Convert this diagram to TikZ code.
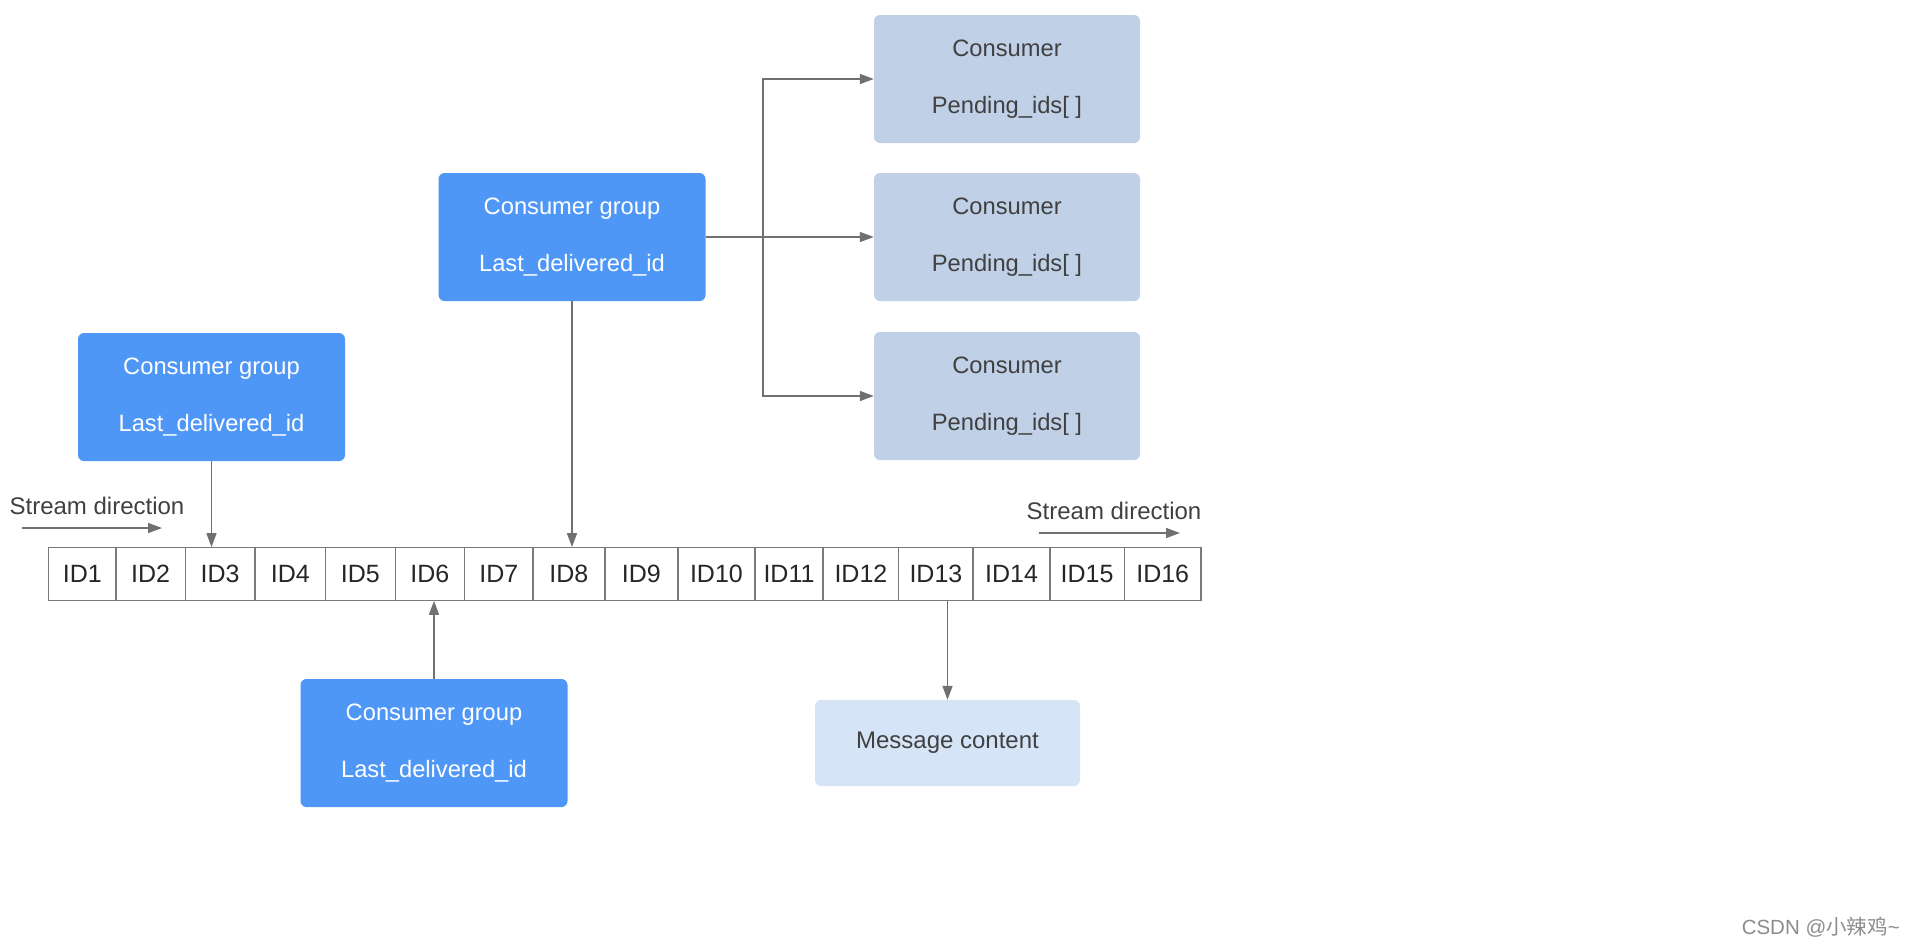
\documentclass[tikz,border=0pt]{standalone}
\usepackage{fontspec}
\setmainfont{Liberation Sans}
\newfontfamily\cjk{Noto Sans CJK SC}
\usetikzlibrary{arrows.meta}
\definecolor{grpblue}{HTML}{4F97F7}
\definecolor{consblue}{HTML}{C0D0E7}
\definecolor{msgblue}{HTML}{D5E5F7}
\definecolor{darktxt}{HTML}{404040}
\definecolor{linegray}{HTML}{707070}
\definecolor{bargray}{HTML}{7A7A7A}
\tikzset{
  grp/.style={fill=grpblue, draw=none, rounded corners=6pt, minimum width=267pt, minimum height=128pt,
    text=white, align=center, font=\fontsize{23.7}{57}\selectfont, inner sep=0pt},
  cons/.style={fill=consblue, draw=none, rounded corners=6pt, minimum width=266pt, minimum height=128pt,
    text=darktxt, align=center, font=\fontsize{23.7}{57}\selectfont, inner sep=0pt},
  msg/.style={fill=msgblue, draw=none, rounded corners=6pt, minimum width=265pt, minimum height=86pt,
    text=darktxt, font=\fontsize{24}{28}\selectfont, inner sep=0pt},
  cell/.style={draw=bargray, line width=1.3pt, minimum height=52.5pt, inner sep=0pt,
    text=black!85, font=\fontsize{25}{28}\selectfont},
  arr/.style={draw=linegray, line width=1.6pt, -{Triangle[length=14pt,width=10pt]}},
  lbl/.style={text=darktxt, font=\fontsize{24}{28}\selectfont, inner sep=0pt}
}
\begin{document}
\begin{tikzpicture}[x=1pt,y=-1pt]
\useasboundingbox (0,0) rectangle (1912,946);
% ID bar
\node[cell, minimum width=67pt]   (id1)  at (82.3,574)  {ID1};
\node[cell, minimum width=69.5pt] (id2)  at (150.6,574) {ID2};
\node[cell, minimum width=69.6pt] (id3)  at (220.1,574) {ID3};
\node[cell, minimum width=70.7pt] (id4)  at (290.3,574) {ID4};
\node[cell, minimum width=69.5pt] (id5)  at (360.4,574) {ID5};
\node[cell, minimum width=69.5pt] (id6)  at (429.9,574) {ID6};
\node[cell, minimum width=68.3pt] (id7)  at (498.8,574) {ID7};
\node[cell, minimum width=71.9pt] (id8)  at (568.9,574) {ID8};
\node[cell, minimum width=73.2pt] (id9)  at (641.4,574) {ID9};
\node[cell, minimum width=76.8pt] (id10) at (716.4,574) {ID10};
\node[cell, minimum width=68.3pt] (id11) at (789,574)   {ID11};
\node[cell, minimum width=75.6pt] (id12) at (860.9,574) {ID12};
\node[cell, minimum width=74.4pt] (id13) at (935.9,574) {ID13};
\node[cell, minimum width=76.8pt] (id14) at (1011.5,574) {ID14};
\node[cell, minimum width=74.4pt] (id15) at (1087.1,574) {ID15};
\node[cell, minimum width=76.8pt] (id16) at (1162.7,574) {ID16};
% groups
\node[grp] (g1) at (211.5,397) {Consumer group\\Last\_delivered\_id};
\node[grp] (g2) at (572,237)   {Consumer group\\Last\_delivered\_id};
\node[grp] (g3) at (434,743)   {Consumer group\\Last\_delivered\_id};
% consumers
\node[cons] (c1) at (1007,79)  {Consumer\\Pending\_ids[ ]};
\node[cons] (c2) at (1007,237) {Consumer\\Pending\_ids[ ]};
\node[cons] (c3) at (1007,396) {Consumer\\Pending\_ids[ ]};
% message
\node[msg] (m) at (947.5,743) {Message content};
% arrows to bar
\draw[arr] (g1.south) -- (g1.south |- id3.north);
\draw[arr] (g2.south) -- (g2.south |- id8.north);
\draw[arr] (g3.north) -- (g3.north |- id6.south);
\draw[arr] (m.north |- id13.south) -- (m.north);
% fan-out
\coordinate (j) at (763,237);
\draw[arr] (g2.east) -- (c2.west);
\draw[arr] (g2.east) -- (j) |- (c1.west);
\draw[arr] (g2.east) -- (j) |- (c3.west);
% stream direction
\node[lbl] (s1) at (97,506) {Stream direction};
\coordinate (s1a) at (22,528);
\coordinate (s1b) at (162,528);
\draw[arr] (s1a) -- (s1b);
\node[lbl] (s2) at (1114,511) {Stream direction};
\coordinate (s2a) at (1039,533);
\coordinate (s2b) at (1180,533);
\draw[arr] (s2a) -- (s2b);
% watermark
\node[anchor=east, text=black!45, font=\fontsize{20.5}{24}\selectfont, inner sep=0pt] (wm) at (1900,927) {CSDN @{\cjk 小辣鸡}\textasciitilde};
\end{tikzpicture}
\end{document}
